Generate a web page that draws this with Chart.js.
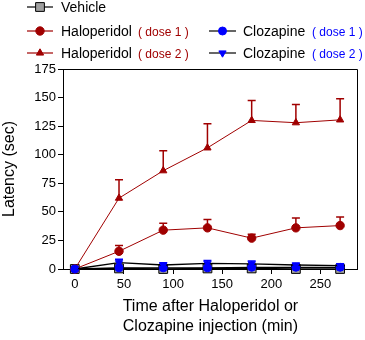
<!DOCTYPE html>
<html><head><meta charset="utf-8">
<script src="https://cdn.jsdelivr.net/npm/chart.js@4/dist/chart.umd.min.js"></script>
<style>html,body{margin:0;padding:0;background:#fff}#wrap{position:relative;width:365px;height:340px}</style>
</head><body><div id="wrap"><canvas id="c" width="365" height="340"></canvas></div>
<script>
const times = [0, 45, 90, 135, 180, 225, 270];
const xTicks = [0, 50, 100, 150, 200, 250];
const yTicks = [0, 25, 50, 75, 100, 125, 150, 175];
const vehicle = [0, 0.5, 0, 0.5, 0.5, 0, 0];
const vehicleErr = [0, 0, 0, 0, 0, 0, 0];
const haloDose1 = [0, 15.5, 34, 36, 27, 36, 38];
const haloDose1Err = [0, 5, 6, 7.4, 3.5, 8.6, 7.5];
const haloDose2 = [0, 62, 86, 106, 130, 128, 130.5];
const haloDose2Err = [0, 16, 17.5, 21, 17.5, 16, 18.5];
const clozDose1 = [0, 1, 1, 1, 1.5, 1.5, 1.5];
const clozDose1Err = [0, 0, 0, 0, 0, 0, 0];
const clozDose2 = [0, 5.5, 3.5, 5, 4.5, 3.5, 3];
const clozDose2Err = [0, 3, 2, 2.5, 2.5, 1.5, 1.5];

const RED = '#a00000', BLUE = '#0000ff', GRAY = '#a0a0a0';
const FONT = '"Liberation Sans", Arial, sans-serif';
const pts = arr => times.map((t, i) => ({x: t, y: arr[i]}));

const errorBars = {
  id: 'errorBars',
  beforeDatasetsDraw(chart) {
    const ctx = chart.ctx, xs = chart.scales.x, ys = chart.scales.y;
    chart.data.datasets.forEach(ds => {
      if (!ds.errors) return;
      ctx.save();
      ctx.strokeStyle = ds.errColor; ctx.lineWidth = 1.5;
      ds.data.forEach((p, i) => {
        const e = ds.errors[i];
        if (!e) return;
        const px = xs.getPixelForValue(p.x);
        const py = ys.getPixelForValue(p.y);
        const pt = ys.getPixelForValue(p.y + e);
        ctx.beginPath();
        ctx.moveTo(px, py); ctx.lineTo(px, pt);
        ctx.moveTo(px - 4, pt); ctx.lineTo(px + 4, pt);
        ctx.stroke();
      });
      ctx.restore();
    });
  }
};

const frame = {
  id: 'frame',
  afterDraw(chart) {
    const {ctx, chartArea: a} = chart;
    ctx.save();
    ctx.strokeStyle = '#000'; ctx.lineWidth = 1;
    ctx.beginPath();
    ctx.moveTo(Math.round(a.left) + 0.5, Math.round(a.top) + 0.5);
    ctx.lineTo(Math.round(a.right) - 0.5, Math.round(a.top) + 0.5);
    ctx.lineTo(Math.round(a.right) - 0.5, Math.round(a.bottom));
    ctx.stroke();
    ctx.restore();
  }
};

function legendEntry(ctx, x1, x2, y, lineColor, pointOpts, fill, stroke, textX, name, dose, doseX, doseColor) {
  ctx.strokeStyle = lineColor; ctx.lineWidth = 1.2;
  ctx.beginPath(); ctx.moveTo(x1, y); ctx.lineTo(x2, y); ctx.stroke();
  ctx.fillStyle = fill; ctx.strokeStyle = stroke; ctx.lineWidth = 1;
  Chart.helpers.drawPoint(ctx, pointOpts, (x1 + x2) / 2, y);
  ctx.textBaseline = 'alphabetic'; ctx.textAlign = 'left';
  ctx.fillStyle = '#000'; ctx.font = '14px ' + FONT;
  ctx.fillText(name, textX, y + 5);
  if (dose) {
    ctx.fillStyle = doseColor; ctx.font = '12px ' + FONT;
    ctx.fillText(dose, doseX, y + 5);
  }
}

const legendPlugin = {
  id: 'customLegend',
  afterDraw(chart) {
    const ctx = chart.ctx;
    ctx.save();
    legendEntry(ctx, 27, 53, 7, '#000', {pointStyle: 'rect', radius: 6.2, rotation: 0, borderWidth: 1}, GRAY, '#000', 61, 'Vehicle');
    legendEntry(ctx, 27, 53, 31, RED, {pointStyle: 'circle', radius: 4.2, rotation: 0, borderWidth: 1}, RED, RED, 61, 'Haloperidol', '( dose 1 )', 138, RED);
    legendEntry(ctx, 27, 53, 53, RED, {pointStyle: 'triangle', radius: 4.2, rotation: 0, borderWidth: 1}, RED, RED, 61, 'Haloperidol', '( dose 2 )', 138, RED);
    legendEntry(ctx, 209, 236, 31, '#000', {pointStyle: 'circle', radius: 4, rotation: 0, borderWidth: 1}, BLUE, BLUE, 243, 'Clozapine', '( dose 1 )', 312, BLUE);
    legendEntry(ctx, 209, 236, 53, '#000', {pointStyle: 'triangle', radius: 4.2, rotation: 180, borderWidth: 1}, BLUE, BLUE, 243, 'Clozapine', '( dose 2 )', 312, BLUE);
    ctx.restore();
  }
};

const common = {borderWidth: 1, tension: 0, fill: false, clip: false, pointBorderWidth: 1, pointHoverRadius: 0};

new Chart(document.getElementById('c'), {
  type: 'line',
  data: {
    datasets: [
      Object.assign({}, common, {label: 'Clozapine (dose 2)', data: pts(clozDose2), errors: clozDose2Err, errColor: BLUE,
        borderColor: '#000', borderWidth: 1.3, pointStyle: 'triangle', pointRotation: 180, pointRadius: 4.2,
        pointBackgroundColor: BLUE, pointBorderColor: BLUE, order: 1}),
      Object.assign({}, common, {label: 'Clozapine (dose 1)', data: pts(clozDose1), errors: clozDose1Err, errColor: BLUE,
        borderColor: '#000', borderWidth: 1.3, pointStyle: 'circle', pointRadius: 4,
        pointBackgroundColor: BLUE, pointBorderColor: BLUE, order: 2}),
      Object.assign({}, common, {label: 'Haloperidol (dose 2)', data: pts(haloDose2), errors: haloDose2Err, errColor: RED,
        borderColor: RED, pointStyle: 'triangle', pointRadius: 4.2,
        pointBackgroundColor: RED, pointBorderColor: RED, order: 3}),
      Object.assign({}, common, {label: 'Haloperidol (dose 1)', data: pts(haloDose1), errors: haloDose1Err, errColor: RED,
        borderColor: RED, pointStyle: 'circle', pointRadius: 4.2,
        pointBackgroundColor: RED, pointBorderColor: RED, order: 4}),
      Object.assign({}, common, {label: 'Vehicle', data: pts(vehicle), errors: vehicleErr, errColor: '#000',
        borderColor: '#000', borderWidth: 1.3, pointStyle: 'rect', pointRadius: 6.2,
        pointBackgroundColor: GRAY, pointBorderColor: '#000', order: 5})
    ]
  },
  options: {
    responsive: false,
    animation: false,
    events: [],
    layout: {padding: {top: 69, right: 2, left: 0, bottom: 0}},
    plugins: {legend: {display: false}, tooltip: {enabled: false}},
    scales: {
      x: {
        type: 'linear', min: -12, max: 288,
        afterBuildTicks: s => { s.ticks = xTicks.map(v => ({value: v})); },
        afterFit: s => { s.height = 71; },
        grid: {display: true, drawOnChartArea: false, drawTicks: true, tickLength: 5, color: '#000', lineWidth: 1},
        border: {display: true, color: '#000', width: 1},
        ticks: {color: '#000', font: {family: FONT, size: 13}, padding: 3, maxRotation: 0, autoSkip: false},
        title: {display: true, text: ['Time after Haloperidol or', 'Clozapine injection (min)'], color: '#000',
          font: {family: FONT, size: 16, lineHeight: 1.25}, padding: {top: 0, bottom: 3}}
      },
      y: {
        type: 'linear', min: 0, max: 175,
        afterBuildTicks: s => { s.ticks = yTicks.map(v => ({value: v})); },
        afterFit: s => { s.width = 63; },
        grid: {display: true, drawOnChartArea: false, drawTicks: true, tickLength: 5, color: '#000', lineWidth: 1},
        border: {display: true, color: '#000', width: 1},
        ticks: {color: '#000', font: {family: FONT, size: 13}, padding: 2, autoSkip: false},
        title: {display: true, text: 'Latency (sec)', color: '#000',
          font: {family: FONT, size: 16, lineHeight: 1.2}, padding: {top: 0, bottom: 0}}
      }
    }
  },
  plugins: [errorBars, frame, legendPlugin]
});
</script></body></html>
